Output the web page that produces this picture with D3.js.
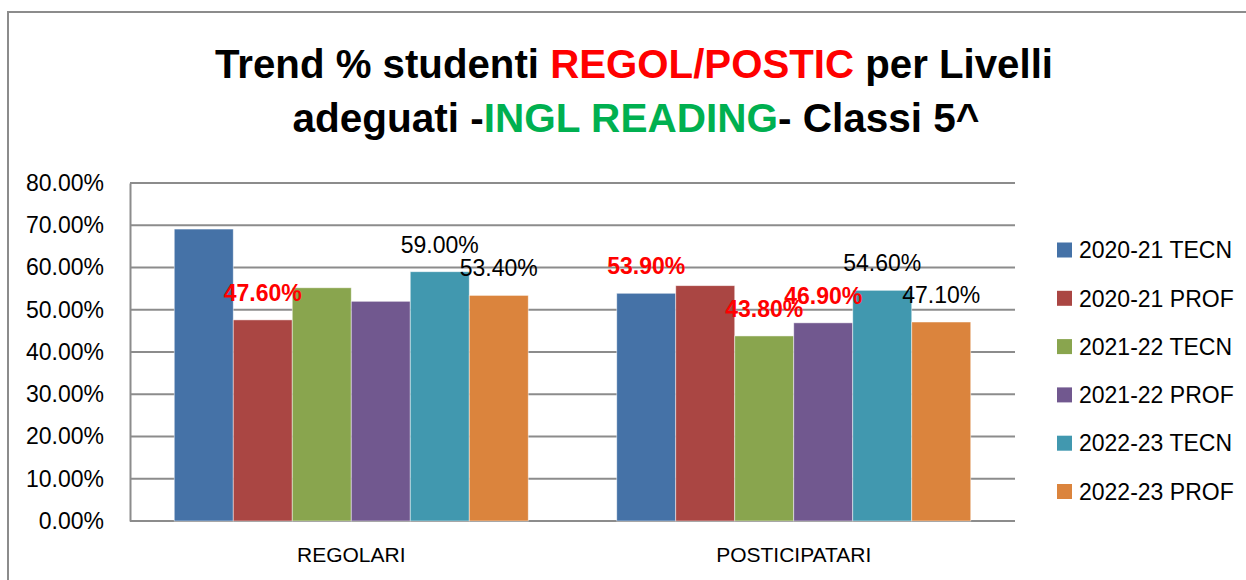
<!DOCTYPE html>
<html>
<head>
<meta charset="utf-8">
<script src="https://cdn.jsdelivr.net/npm/d3@7"></script>
<style>
  body { margin: 0; background: #fff; }
  text { font-family: "Liberation Sans", Arial, sans-serif; }
</style>
</head>
<body>
<div id="chart"></div>
<script>
// chart data
var categories = ["REGOLARI", "POSTICIPATARI"];
var seriesNames = ["2020-21 TECN", "2020-21 PROF", "2021-22 TECN", "2021-22 PROF", "2022-23 TECN", "2022-23 PROF"];
var regolariValues = [69.1, 47.6, 55.2, 52.0, 59.0, 53.4];
var posticipatariValues = [53.9, 55.7, 43.8, 46.9, 54.6, 47.1];
// which labels show on the chart (null = no label), and whether they are highlighted
var regolariLabels = [null, "47.60%", null, null, "59.00%", "53.40%"];
var posticipatariLabels = ["53.90%", null, "43.80%", "46.90%", "54.60%", "47.10%"];
var regolariHighlight = [false, true, false, false, false, false];
var posticipatariHighlight = [true, false, true, true, false, false];
var yTicks = [0, 10, 20, 30, 40, 50, 60, 70, 80];

var colors = ["#4572A7", "#AA4643", "#89A54E", "#71588F", "#4198AF", "#DB843D"];

var svgWidth = 1246;
var svgHeight = 580;

var margin = {
  top: 183,
  right: 231,
  bottom: 59,
  left: 130
};

var width = svgWidth - margin.left - margin.right;
var height = svgHeight - margin.top - margin.bottom;

var svg = d3.select("#chart")
  .append("svg")
  .attr("width", svgWidth)
  .attr("height", svgHeight);

// outer chart frame (only top and left edges visible)
svg.append("path")
  .attr("d", `M8,${svgHeight + 5} L8,12 L${svgWidth + 5},12`)
  .attr("fill", "none")
  .attr("stroke", "#8c8c8c")
  .attr("stroke-width", 2);

// title
var title = svg.append("g").attr("text-anchor", "middle").attr("font-weight", "bold").attr("font-size", 41);

var line1 = title.append("text")
  .attr("x", 634)
  .attr("y", 78)
  .attr("textLength", 838)
  .attr("lengthAdjust", "spacingAndGlyphs");
line1.append("tspan").text("Trend % studenti ");
line1.append("tspan").attr("fill", "#FF0000").text("REGOL/POSTIC");
line1.append("tspan").text(" per Livelli");

var line2 = title.append("text")
  .attr("x", 636)
  .attr("y", 132)
  .attr("textLength", 687)
  .attr("lengthAdjust", "spacingAndGlyphs");
line2.append("tspan").text("adeguati -");
line2.append("tspan").attr("fill", "#00B050").text("INGL READING");
line2.append("tspan").text("- Classi 5^");

var chartGroup = svg.append("g")
  .attr("transform", `translate(${margin.left},${margin.top})`);

var data = categories.map((c, i) => ({
  category: c,
  values: i === 0 ? regolariValues : posticipatariValues,
  labels: i === 0 ? regolariLabels : posticipatariLabels,
  highlight: i === 0 ? regolariHighlight : posticipatariHighlight
}));

var x0 = d3.scaleBand()
  .domain(categories)
  .range([0, width])
  .paddingInner(0.2)
  .paddingOuter(0.1);

var x1 = d3.scaleBand()
  .domain(seriesNames)
  .range([0, x0.bandwidth()]);

var yLinearScale = d3.scaleLinear()
  .domain([0, 80])
  .range([height, 0]);

// gridlines
chartGroup.append("g")
  .selectAll("line")
  .data(yTicks)
  .enter()
  .append("line")
  .attr("x1", 0)
  .attr("x2", width)
  .attr("y1", d => yLinearScale(d))
  .attr("y2", d => yLinearScale(d))
  .attr("stroke", "#8c8c8c")
  .attr("stroke-width", 2);

// left axis
var leftAxis = d3.axisLeft(yLinearScale)
  .tickValues(yTicks)
  .tickSize(0)
  .tickPadding(26)
  .tickFormat(d => d.toFixed(2) + "%");

var yAxisG = chartGroup.append("g").call(leftAxis);
yAxisG.select(".domain").attr("stroke", "#8c8c8c").attr("stroke-width", 2);
yAxisG.selectAll("text")
  .attr("font-family", "'Liberation Sans', Arial, sans-serif")
  .attr("font-size", 23)
  .attr("fill", "#000");

// bottom axis labels
var bottomAxis = d3.axisBottom(x0).tickSize(0).tickPadding(26);
var xAxisG = chartGroup.append("g")
  .attr("transform", `translate(0,${height})`)
  .call(bottomAxis);
xAxisG.select(".domain").remove();
xAxisG.selectAll("text")
  .attr("font-family", "'Liberation Sans', Arial, sans-serif")
  .attr("font-size", 21)
  .attr("fill", "#000");

// bars
var groups = chartGroup.selectAll(".cat")
  .data(data)
  .enter()
  .append("g")
  .attr("class", "cat")
  .attr("transform", d => `translate(${x0(d.category)},0)`);

groups.selectAll("rect")
  .data(d => d.values.map((v, i) => ({ name: seriesNames[i], value: v, i: i })))
  .enter()
  .append("rect")
  .attr("x", d => x1(d.name))
  .attr("y", d => yLinearScale(d.value))
  .attr("width", x1.bandwidth())
  .attr("height", d => height - yLinearScale(d.value))
  .attr("fill", d => colors[d.i])
  .attr("stroke", "rgba(255,255,255,0.6)")
  .attr("stroke-width", 0.8);

// data labels
groups.selectAll(".lbl")
  .data(d => d.values.map((v, i) => ({ name: seriesNames[i], value: v, label: d.labels[i], hl: d.highlight[i] })).filter(d => d.label))
  .enter()
  .append("text")
  .attr("class", "lbl")
  .attr("x", d => x1(d.name) + x1.bandwidth() / 2)
  .attr("y", d => yLinearScale(d.value) - 19)
  .attr("text-anchor", "middle")
  .attr("font-size", 23)
  .attr("font-weight", d => d.hl ? "bold" : "normal")
  .attr("fill", d => d.hl ? "#FF0000" : "#000")
  .text(d => d.label);

// legend
var legend = svg.append("g")
  .selectAll("g")
  .data(seriesNames)
  .enter()
  .append("g")
  .attr("transform", (d, i) => `translate(1057,${250 + i * 48.3})`);

legend.append("rect")
  .attr("x", 0)
  .attr("y", -7.5)
  .attr("width", 15)
  .attr("height", 15)
  .attr("fill", (d, i) => colors[i]);

legend.append("text")
  .attr("x", 22)
  .attr("y", 0)
  .attr("dy", "0.36em")
  .attr("font-size", 23)
  .attr("fill", "#000")
  .text(d => d);
</script>
</body>
</html>
